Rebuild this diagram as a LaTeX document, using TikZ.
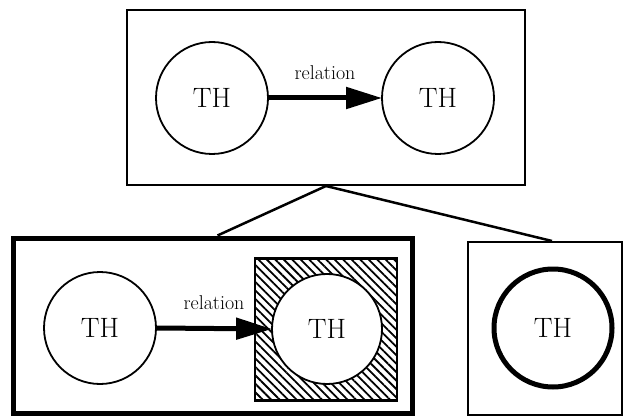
\documentclass[tikz,border=0pt]{standalone}
\usepackage{fontspec}
\usetikzlibrary{arrows.meta,patterns.meta,calc}
\begin{document}
\begin{tikzpicture}[x=1pt,y=-1pt,
  frame/.style={draw,line width=2pt,rectangle,inner sep=0pt},
  boldframe/.style={draw,line width=5pt,rectangle,inner sep=0pt},
  th/.style={draw,circle,line width=1.8pt,fill=white,inner sep=0pt,minimum size=112pt,font=\fontsize{28}{32}\selectfont},
  boldth/.style={th,line width=5pt,minimum size=118pt},
  rel/.style={line width=5pt,-{Triangle[length=36pt,width=21pt]},shorten >=-1pt},
  rellabel/.style={above=15pt,font=\fontsize{20}{24}\selectfont,inner sep=1pt},
  link/.style={line width=2.5pt},
  hatched/.style={draw,line width=2.5pt,inner sep=0pt,minimum size=142pt,
    pattern={Lines[angle=-45,distance=6pt,line width=1.8pt]}}]
\useasboundingbox (0,0) rectangle (624,417);

% upper theme box
\node[frame,minimum width=398pt,minimum height=175pt] (top) at (326,97.5) {};
\node[th] (t1) at (212,98) {TH};
\node[th] (t2) at (438,98) {TH};
\draw[rel] (t1.east) -- node[rellabel] {relation} (t2.west);

% lower left box with hatched target
\node[boldframe,minimum width=399pt,minimum height=175pt] (left) at (212.5,325.5) {};
\node[th] (l1) at (100,328) {TH};
\node[hatched] (sq) at (326,329.5) {};
\node[th,minimum size=110pt] (l2) at (327,329) {TH};
\draw[rel] (l1.east) -- node[rellabel] {relation} (l2.west);

% lower right box
\node[frame,minimum width=154pt,minimum height=173pt] (right) at (545,328.5) {};
\node[boldth] (r1) at (553,328) {TH};

% links from the upper box
\coordinate (lend) at ($(left.north west)+(207,0)$);
\coordinate (rend) at ($(right.north west)+(85,0)$);
\draw[link] (top.south) -- (lend);
\draw[link] (top.south) -- (rend);
\end{tikzpicture}
\end{document}
